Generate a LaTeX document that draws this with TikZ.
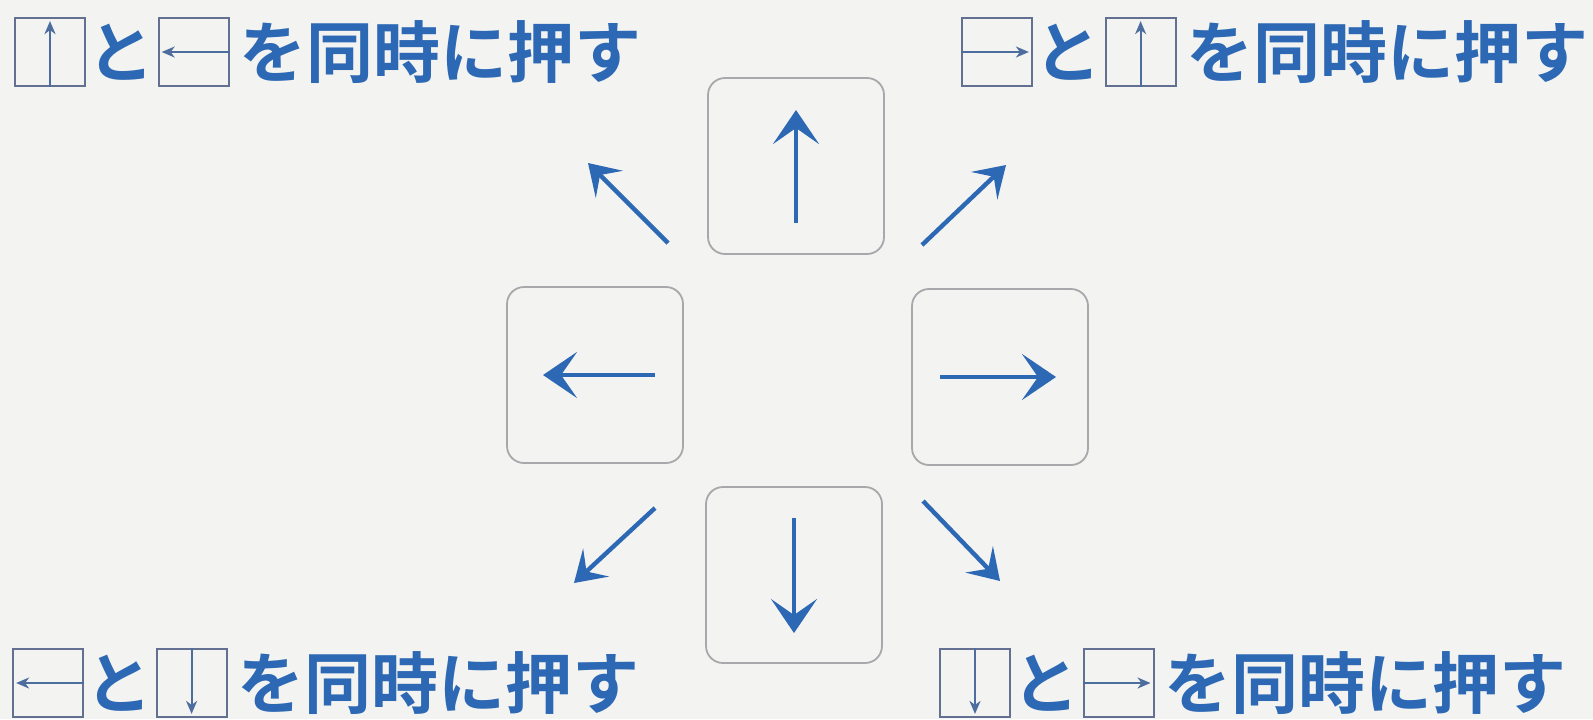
\documentclass[tikz,border=0pt]{standalone}
\usepackage{fontspec}
\newfontfamily\jpfont{Noto Sans CJK JP Bold}
\usetikzlibrary{arrows.meta,positioning}
\definecolor{paper}{RGB}{243,243,241}
\definecolor{keyblue}{RGB}{44,104,180}
\definecolor{keyrim}{RGB}{168,168,172}
\definecolor{caprim}{RGB}{100,112,145}
\tikzset{
  bigkey/.style={draw=keyrim,line width=0.9pt,rounded corners=8.5pt,minimum width=88pt,minimum height=88pt},
  capkey/.style={draw=caprim,line width=0.9pt,minimum width=35pt,minimum height=34pt,inner sep=0pt},
  jp/.style={text=keyblue,inner sep=0pt,font=\jpfont\fontsize{33.5}{33.5}\selectfont},
  keyarrow/.style={keyblue,line width=2.2pt,-{Stealth[length=17pt,width=23pt,inset=8pt]}},
  diagarrow/.style={keyblue,line width=2.2pt,-{Stealth[length=15pt,width=19pt,inset=6.5pt]}},
  caparrow/.style={caprim!60!keyblue,line width=1pt,-{Stealth[length=6.5pt,width=5.5pt,inset=2pt]}}
}
\begin{document}
\begin{tikzpicture}[x=0.5pt,y=-0.5pt]
  \fill[paper](0,0)rectangle(1593,719);
  % the four keys
  \node[bigkey](up)at(796,166){};
  \node[bigkey](left)at(595,375){};
  \node[bigkey](right)at(1000,377){};
  \node[bigkey](down)at(794,575){};
  \draw[keyarrow]([yshift=-28.5pt]up.center)--([yshift=28pt]up.center);
  \draw[keyarrow]([xshift=30pt]left.center)--([xshift=-26pt]left.center);
  \draw[keyarrow]([xshift=-30pt]right.center)--([xshift=28pt]right.center);
  \draw[keyarrow]([yshift=28.5pt]down.center)--([yshift=-29pt]down.center);
  % slanting arrows
  \foreach \s/\t in {{668,243}/{588,163},{922,245}/{1006,165},{655,508}/{574,583},{923,501}/{1000,581}}
    \draw[diagarrow](\s)--(\t);
  % top left
  \node[capkey](tlA)at(50,52){};
  \node[jp,right=0.5pt of tlA](tlB){と};
  \node[capkey,right=1.5pt of tlB](tlC){};
  \node[jp,right=5pt of tlC](tlD){を同時に押す};
  \draw[caparrow](tlA.south)--([yshift=-2pt]tlA.north);
  \draw[caparrow](tlC.east)--([xshift=2pt]tlC.west);
  % top right
  \node[capkey](trA)at(997,52){};
  \node[jp,right=0.5pt of trA](trB){と};
  \node[capkey,right=1.5pt of trB](trC){};
  \node[jp,right=5pt of trC](trD){を同時に押す};
  \draw[caparrow](trA.west)--([xshift=-2pt]trA.east);
  \draw[caparrow](trC.south)--([yshift=-2pt]trC.north);
  % bottom left
  \node[capkey](blA)at(48,683){};
  \node[jp,right=0.5pt of blA](blB){と};
  \node[capkey,right=1.5pt of blB](blC){};
  \node[jp,right=5pt of blC](blD){を同時に押す};
  \draw[caparrow](blA.east)--([xshift=2pt]blA.west);
  \draw[caparrow](blC.north)--([yshift=2pt]blC.south);
  % bottom right
  \node[capkey](brA)at(975,683){};
  \node[jp,right=0.5pt of brA](brB){と};
  \node[capkey,right=1.5pt of brB](brC){};
  \node[jp,right=5pt of brC](brD){を同時に押す};
  \draw[caparrow](brA.north)--([yshift=2pt]brA.south);
  \draw[caparrow](brC.west)--([xshift=-2pt]brC.east);
\end{tikzpicture}
\end{document}
